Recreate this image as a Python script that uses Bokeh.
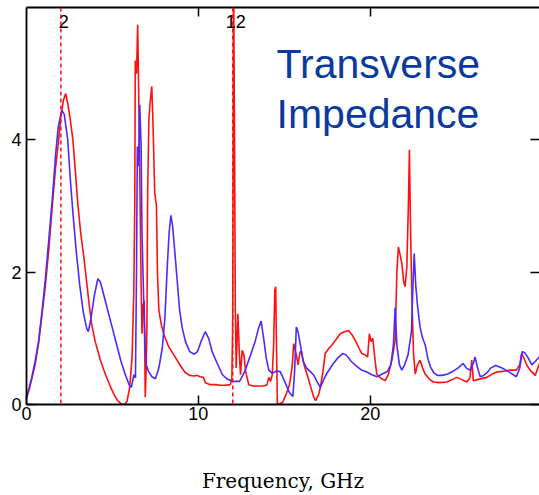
from bokeh.plotting import figure
from bokeh.models import LinearAxis, FixedTicker, Range1d, Span, CustomJSTickFormatter, Label
from bokeh.embed import file_html
from bokeh.resources import INLINE
from bokeh.core.properties import value

# ---- data ----
freq_blue = [0.0, 0.15, 0.3, 0.5, 0.7, 0.9, 1.1, 1.3, 1.5, 1.7, 1.85, 2.05, 2.2, 2.4, 2.55, 2.7, 2.9,
             3.1, 3.3, 3.5, 3.6, 3.75, 3.95, 4.15, 4.3, 4.5, 4.75, 5.0, 5.25, 5.5, 5.75, 6.0, 6.1,
             6.25, 6.34, 6.4, 6.45, 6.52, 6.59, 6.67, 6.72, 6.82, 6.9, 6.97, 7.1, 7.3, 7.5, 7.7,
             7.9, 8.05, 8.2, 8.3, 8.4, 8.5, 8.6, 8.76, 8.9, 9.05, 9.25, 9.5, 9.75, 9.95, 10.15,
             10.4, 10.6, 10.8, 11.1, 11.4, 11.7, 12.0, 12.4, 12.7, 13.0, 13.3, 13.5, 13.65, 13.8,
             13.95, 14.1, 14.3, 14.5, 14.75, 14.9, 15.1, 15.3, 15.5, 15.6, 15.7, 15.8, 15.95, 16.1,
             16.3, 16.5, 16.7, 16.9, 17.1, 17.3, 17.5, 17.8, 18.1, 18.4, 18.6, 18.9, 19.2, 19.5,
             19.8, 20.1, 20.4, 20.7, 21.0, 21.2, 21.35, 21.45, 21.55, 21.7, 21.84, 22.0, 22.2,
             22.4, 22.5, 22.56, 22.65, 22.75, 22.9, 23.05, 23.2, 23.35, 23.5, 23.7, 23.9, 24.2,
             24.5, 24.8, 25.1, 25.4, 25.6, 25.8, 26.0, 26.1, 26.25, 26.4, 26.6, 26.8, 27.0, 27.3,
             27.6, 27.9, 28.2, 28.5, 28.7, 28.85, 29.0, 29.2, 29.4, 29.6, 29.85]
imp_blue = [0.11, 0.25, 0.4, 0.65, 0.95, 1.4, 1.9, 2.5, 3.1, 3.8, 4.2, 4.45, 4.38, 4.0, 3.4, 2.9, 2.3,
            1.8, 1.4, 1.15, 1.1, 1.3, 1.65, 1.9, 1.85, 1.65, 1.4, 1.15, 0.9, 0.65, 0.45, 0.28, 0.26,
            0.45, 0.4, 2.0, 3.9, 3.6, 4.53, 3.9, 2.6, 1.57, 0.9, 0.6, 0.5, 0.42, 0.39, 0.55,
            0.85, 1.3, 2.13, 2.6, 2.86, 2.7, 2.4, 1.9, 1.45, 1.17, 0.95, 0.8, 0.76, 0.8, 0.95,
            1.1, 1.0, 0.8, 0.62, 0.45, 0.38, 0.35, 0.35, 0.5, 0.72, 0.95, 1.15, 1.26, 1.0,
            0.7, 0.52, 0.47, 0.5, 0.5, 0.42, 0.3, 0.18, 0.12, 0.5, 1.17, 1.1, 0.88, 0.65,
            0.55, 0.5, 0.45, 0.35, 0.26, 0.38, 0.48, 0.6, 0.7, 0.77, 0.75, 0.65, 0.58, 0.52,
            0.49, 0.45, 0.42, 0.46, 0.5, 0.6, 0.9, 1.47, 0.9, 0.6, 0.52, 0.6, 0.75,
            1.1, 1.9, 2.28, 1.8, 1.5, 1.17, 1.0, 0.9, 0.7, 0.57, 0.48, 0.44, 0.44,
            0.46, 0.5, 0.55, 0.62, 0.55, 0.52, 0.62, 0.72, 0.55, 0.42, 0.44, 0.48, 0.55, 0.59,
            0.56, 0.52, 0.47, 0.42, 0.55, 0.8, 0.78, 0.7, 0.6, 0.65, 0.72]

freq_red = [0.0, 0.15, 0.3, 0.5, 0.7, 0.9, 1.1, 1.3, 1.5, 1.7, 1.85, 2.0, 2.15, 2.28, 2.4, 2.55, 2.7,
            2.85, 2.98, 3.15, 3.35, 3.5, 3.65, 3.8, 4.0, 4.3, 4.6, 4.9, 5.1, 5.3, 5.5, 5.7, 5.85,
            6.0, 6.14, 6.24, 6.3, 6.33, 6.4, 6.47, 6.53, 6.6, 6.67, 6.72, 6.78, 6.85, 6.91, 6.96,
            7.01, 7.05, 7.12, 7.17, 7.25, 7.29, 7.36, 7.46, 7.56, 7.62, 7.7, 7.85, 8.0, 8.28, 8.5,
            8.76, 9.0, 9.24, 9.5, 9.75, 9.92, 10.1, 10.3, 10.4, 10.7, 11.0, 11.3, 11.6, 11.86,
            11.95, 12.0, 12.05, 12.1, 12.15, 12.2, 12.3, 12.38, 12.45, 12.55, 12.65, 12.75, 12.93,
            13.2, 13.5, 13.8, 14.0, 14.1, 14.2, 14.3, 14.38, 14.45, 14.5, 14.55, 14.6, 14.9, 15.1,
            15.3, 15.45, 15.55, 15.7, 15.8, 15.92, 16.0, 16.15, 16.32, 16.5, 16.7, 16.82, 17.0,
            17.1, 17.25, 17.38, 17.6, 17.77, 18.0, 18.26, 18.5, 18.74, 18.95, 19.13, 19.35, 19.51,
            19.7, 19.85, 19.95, 20.05, 20.15, 20.28, 20.38, 20.6, 20.87, 21.05, 21.26, 21.45,
            21.55, 21.64, 21.75, 21.84, 21.95, 22.03, 22.13, 22.22, 22.28, 22.35, 22.43, 22.52,
            22.62, 22.75, 22.9, 23.05, 23.2, 23.45, 23.68, 24.0, 24.46, 24.8, 25.04, 25.3, 25.62,
            25.8, 25.91, 26.0, 26.3, 26.78, 27.1, 27.36, 27.7, 28.14, 28.5, 28.7, 28.8, 28.95,
            29.1, 29.3, 29.6, 29.85]
imp_red = [0.1, 0.22, 0.38, 0.6, 0.92, 1.35, 1.8, 2.35, 3.0, 3.6, 3.95, 4.35, 4.6, 4.7, 4.55, 4.3, 4.0,
           3.5, 3.05, 2.6, 2.2, 1.85, 1.5, 1.2, 0.95, 0.67, 0.45, 0.26, 0.15, 0.06, 0.01, 0.0, 0.05,
           0.25, 0.7, 1.67, 3.0, 5.2, 5.0, 5.74, 4.66, 3.3, 1.8, 1.07, 1.5, 1.57, 0.11, 0.5,
           1.22, 3.2, 4.3, 4.5, 4.7, 4.81, 4.25, 3.2, 3.0, 2.0, 1.43, 1.2, 1.05, 0.87, 0.78,
           0.67, 0.57, 0.48, 0.44, 0.43, 0.44, 0.42, 0.41, 0.33, 0.3, 0.3, 0.29, 0.29, 0.3,
           0.4, 1.3, 6.5, 4.2, 1.5, 0.55, 1.37, 0.8, 0.45, 0.82, 0.75, 0.5, 0.3,
           0.28, 0.28, 0.28, 0.3, 0.41, 0.35, 0.45, 0.9, 1.73, 1.78, 0.8, 0.0, 0.03, 0.15,
           0.3, 0.55, 0.92, 0.75, 0.6, 0.8, 0.79, 0.6, 0.46, 0.3, 0.12, 0.06, 0.15,
           0.26, 0.5, 0.77, 0.85, 0.9, 0.98, 1.07, 1.1, 1.12, 1.05, 0.97, 0.85, 0.77,
           0.75, 0.72, 1.07, 0.95, 1.0, 0.67, 0.46, 0.4, 0.36, 0.45, 0.67, 0.97,
           2.0, 2.38, 2.25, 2.13, 1.85, 1.78, 2.08, 3.0, 3.85, 2.6, 1.58, 0.77,
           0.46, 0.6, 0.67, 0.55, 0.46, 0.38, 0.34, 0.33, 0.34, 0.38, 0.41, 0.38, 0.34,
           0.4, 0.67, 0.36, 0.38, 0.41, 0.46, 0.49, 0.5, 0.52, 0.52, 0.6, 0.77, 0.7,
           0.6, 0.52, 0.44, 0.62]

marker_freqs = [2, 12]
marker_labels = ["2", "12"]
x_ticks = [0, 10, 20, 30]
y_ticks = [0, 2, 4]
top_ticks = [10, 20]
x_label = "Frequency, GHz"
title_lines = ["Transverse", "Impedance"]

X_MAX = 29.85
Y_MAX = 6.0

RED = "#ff1010"
BLUE = "#4a2aff"

p = figure(width=539, height=495, output_backend="svg", toolbar_location=None,
           x_range=Range1d(0, X_MAX), y_range=Range1d(0, Y_MAX),
           x_axis_type=None, y_axis_type=None,
           min_border_left=26, min_border_right=0, min_border_top=7, min_border_bottom=91)
p.outline_line_color = None
p.background_fill_color = "white"
p.border_fill_color = "white"

tick_font = value("Liberation Sans")
empty = CustomJSTickFormatter(code="return ''")

bottom = LinearAxis(ticker=FixedTicker(ticks=x_ticks), axis_label=x_label)
bottom.axis_label_text_font = "DejaVu Serif"
bottom.axis_label_text_font_style = "normal"
bottom.axis_label_text_font_size = "20px"
bottom.axis_label_text_color = "black"
bottom.axis_label_standoff = 46
left = LinearAxis(ticker=FixedTicker(ticks=y_ticks))
top = LinearAxis(ticker=FixedTicker(ticks=top_ticks), formatter=empty)
right = LinearAxis(ticker=FixedTicker(ticks=y_ticks), formatter=empty)
right.axis_line_color = None

for ax in (bottom, left, top, right):
    ax.major_tick_in = 9
    ax.major_tick_out = 0
    ax.minor_tick_line_color = None
    ax.major_tick_line_color = "black"
    ax.major_tick_line_width = 1.5
    ax.major_label_text_font = "Liberation Sans"
    ax.major_label_text_font_size = "18px"
    ax.major_label_text_color = "black"
    if ax is not right:
        ax.axis_line_color = "black"
        ax.axis_line_width = 1.8
for ax in (top, right):
    ax.major_label_standoff = 0
bottom.major_label_standoff = 2
left.major_label_standoff = 5

p.add_layout(bottom, "below")
p.add_layout(left, "left")
p.add_layout(top, "above")
p.add_layout(right, "right")

for m in marker_freqs:
    p.add_layout(Span(location=m, dimension="height", line_color=RED,
                      line_dash="4 3", line_width=1.5))

p.line(freq_red, imp_red, line_color=RED, line_width=1.6)
p.line(freq_blue, imp_blue, line_color=BLUE, line_width=1.6)

p.text(x=marker_freqs, y=[Y_MAX] * len(marker_freqs), text=marker_labels,
       x_offset=3, y_offset=14, text_align="center", text_baseline="middle",
       text_font=tick_font, text_font_size="18px", text_color="black")

title_x = 14.55
for i, t in enumerate(title_lines):
    p.add_layout(Label(x=title_x, y=5.15 - 0.76 * i, text=t, text_font="Liberation Sans",
                       text_font_size="41px", text_color="#0a3a9e",
                       text_baseline="alphabetic", text_align="left"))

open("out.html", "w").write(file_html(p, INLINE))
